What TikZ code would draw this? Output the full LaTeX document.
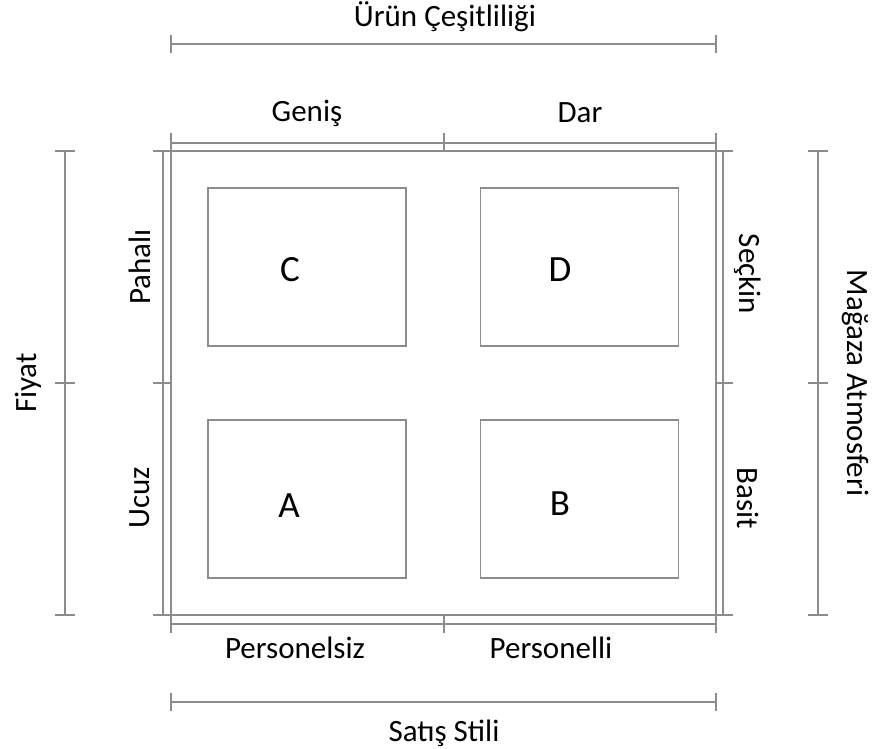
\documentclass[tikz,border=0pt]{standalone}
\usepackage{fontspec}
\setmainfont{Carlito}
\begin{document}
\begin{tikzpicture}[x=1pt,y=-1pt,
  ln/.style={draw=black!45,line width=1.2pt},
  qbox/.style={draw=black!45,line width=1.2pt,minimum width=198pt,minimum height=158pt,inner sep=0pt},
  big/.style={font=\fontsize{37}{44}\selectfont,inner sep=0pt},
  lbl/.style={font=\fontsize{31}{37}\selectfont,inner sep=0pt}]
\useasboundingbox (0,0) rectangle (879,749);
% frame lines
\draw[ln] (171,133) -- (171,633);
\draw[ln] (716,133) -- (716,633);
\draw[ln] (153,151) -- (733,151);
\draw[ln] (153,615) -- (733,615);
% inner axes
\draw[ln] (171,143) -- (716,143);
\draw[ln] (444,133) -- (444,151);
\draw[ln] (171,624) -- (716,624);
\draw[ln] (444,615) -- (444,633);
\draw[ln] (163,151) -- (163,615);
\draw[ln] (153,383) -- (171,383);
\draw[ln] (723,151) -- (723,615);
\draw[ln] (716,383) -- (733,383);
% outer axes
\draw[ln] (171,44) -- (716,44);
\draw[ln] (171,35) -- (171,53);
\draw[ln] (716,35) -- (716,53);
\draw[ln] (171,702) -- (716,702);
\draw[ln] (171,693) -- (171,711);
\draw[ln] (716,693) -- (716,711);
\draw[ln] (65,151) -- (65,615);
\draw[ln] (55,151) -- (75,151);
\draw[ln] (55,383) -- (75,383);
\draw[ln] (55,615) -- (75,615);
\draw[ln] (818,151) -- (818,615);
\draw[ln] (808,151) -- (828,151);
\draw[ln] (808,383) -- (828,383);
\draw[ln] (808,615) -- (828,615);
% quadrant boxes
\node[qbox] (C) at (307,267) {};
\node[qbox] (D) at (579.5,267) {};
\node[qbox] (A) at (307,499) {};
\node[qbox] (B) at (579.5,499) {};
\node[big] (Ct) at (290,270) {C};
\node[big] (Dt) at (560,270) {D};
\node[big] (At) at (289,506) {A};
\node[big] (Bt) at (560,504) {B};
% labels
\node[lbl] (urun) at (445,17) {Ürün Çeşitliliği};
\node[lbl] (genis) at (307,113) {Geniş};
\node[lbl] (dar) at (580,113) {Dar};
\node[lbl] (pers0) at (295,648) {Personelsiz};
\node[lbl] (pers1) at (551,648) {Personelli};
\node[lbl] (satis) at (444,733) {Satış Stili};
\node[lbl,rotate=90] (fiyat) at (28,383) {Fiyat};
\node[lbl,rotate=90] (pahali) at (140,267) {Pahalı};
\node[lbl,rotate=90] (ucuz) at (140,498) {Ucuz};
\node[lbl,rotate=-90] (seckin) at (748,274) {Seçkin};
\node[lbl,rotate=-90] (basit) at (748,498) {Basit};
\node[lbl,rotate=-90] (magaza) at (855,383) {Mağaza Atmosferi};
\end{tikzpicture}
\end{document}
